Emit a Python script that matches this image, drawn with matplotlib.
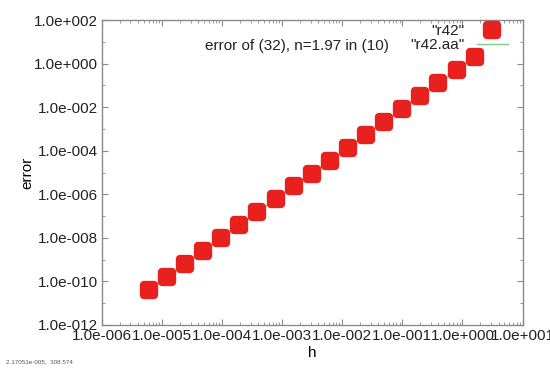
import numpy as np
import matplotlib.pyplot as plt
from matplotlib.markers import MarkerStyle
from matplotlib.ticker import FuncFormatter, LogLocator, NullFormatter

h = [6.1e-6, 1.22e-5, 2.44e-5, 4.88e-5, 9.77e-5, 1.95e-4, 3.9e-4, 7.8e-4,
     1.56e-3, 3.1e-3, 6.25e-3, 1.25e-2, 2.5e-2, 5.0e-2, 0.1, 0.2, 0.4, 0.8, 1.6]
err = [4.1e-11, 1.6e-10, 6.3e-10, 2.5e-9, 9.6e-9, 3.8e-8, 1.5e-7, 5.8e-7,
       2.3e-6, 8.9e-6, 3.5e-5, 1.4e-4, 5.4e-4, 2.1e-3, 8.2e-3, 3.2e-2,
       0.126, 0.49, 2.1]

plt.rcParams['font.family'] = ['Liberation Sans', 'DejaVu Sans']
plt.rcParams['font.size'] = 11


def gp_fmt(v, pos):
    # gnuplot / windows style: 1.0e-006
    e = int(np.round(np.log10(v)))
    m = v / 10.0**e
    sign = '+' if e >= 0 else '-'
    return f"{m:.1f}e{sign}{abs(e):03d}"


fig = plt.figure(figsize=(5.5, 3.71), dpi=100)
ax = fig.add_axes([0.185, 0.124, 0.765, 0.822])

ax.plot(h, err, color='#7ccf8a', lw=1.0, zorder=1, label='"r42.aa"')
mk = MarkerStyle('s', joinstyle='round')
ax.plot(h, err, ls='none', marker=mk, ms=6.5, mew=6, color='#e8211f',
        mec='#e8211f', zorder=2, label='"r42"')

ax.set_xscale('log')
ax.set_yscale('log')
ax.set_xlim(1e-6, 1e1)
ax.set_ylim(1e-12, 1e2)

ax.xaxis.set_major_locator(LogLocator(base=10, numticks=20))
ax.xaxis.set_minor_locator(LogLocator(base=10, subs=np.arange(2, 10), numticks=20))
ax.yaxis.set_major_locator(LogLocator(base=100, numticks=20))
ax.yaxis.set_minor_locator(LogLocator(base=10, subs=[1.0], numticks=30))
ax.xaxis.set_major_formatter(FuncFormatter(gp_fmt))
ax.yaxis.set_major_formatter(FuncFormatter(gp_fmt))
ax.xaxis.set_minor_formatter(NullFormatter())
ax.yaxis.set_minor_formatter(NullFormatter())

for s in ax.spines.values():
    s.set_color('#8a8a8a')
    s.set_linewidth(1.0)
ax.tick_params(which='both', direction='in', top=True, right=True,
               color='#8a8a8a', labelcolor='#222222')
ax.tick_params(which='major', length=4, pad=3)
ax.tick_params(which='minor', length=2)

ax.set_xlabel('h', labelpad=2)
ax.set_ylabel('error')
ax.yaxis.set_label_coords(-0.16, 0.5)

ax.text(0.463, 0.915, 'error of (32), n=1.97 in (10)', transform=ax.transAxes,
        ha='center', va='center', color='#222222')

handles, labels = ax.get_legend_handles_labels()
leg = ax.legend(handles[::-1], labels[::-1], loc='upper right',
                bbox_to_anchor=(0.981, 1.01), frameon=False,
                markerfirst=False, handlelength=2.0, handletextpad=0.8,
                labelspacing=0.0, borderaxespad=0.45, fontsize=11,
                borderpad=0.0)
for t in leg.get_texts():
    t.set_color('#222222')

fig.text(0.01, 0.02, '2.17051e-005,  308.574', fontsize=4.5, color='#555555')

fig.savefig('out.png', dpi=100)
